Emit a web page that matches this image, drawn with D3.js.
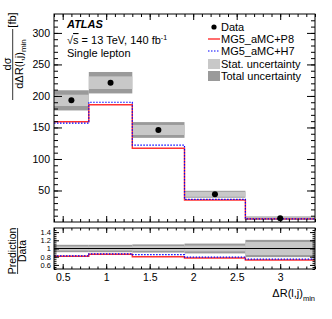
<!DOCTYPE html>
<html>
<head>
<meta charset="utf-8">
<script src="https://cdn.jsdelivr.net/npm/d3@7"></script>
<style>
  body { margin: 0; background: #fff; }
  svg { display: block; font-family: "Liberation Sans", Arial, sans-serif; }
</style>
</head>
<body>
<div id="chart"></div>
<script>
// bins in dR(l,j)_min
const binEdges = [0.4, 0.8, 1.3, 1.9, 2.6, 3.4];
const dataVals = [193, 221, 146, 44, 6];
const statErr = [9, 10, 8, 4, 1.5];
const totalErr = [16, 17, 12.5, 5.5, 2.8];
const predP8 = [159, 186, 117, 35, 5];
const predH7 = [157, 190, 122, 36, 5];

// ratio panel (prediction / data)
const ratioP8 = [0.81, 0.86, 0.80, 0.77, 0.72];
const ratioH7 = [0.82, 0.87, 0.85, 0.79, 0.74];
const ratioStat = [0.05, 0.05, 0.06, 0.07, 0.16];
const ratioTotal = [0.09, 0.09, 0.10, 0.12, 0.21];

const yTicks = [50, 100, 150, 200, 250, 300];
const ratioTicks = [0.6, 0.8, 1, 1.2, 1.4];
const xTicks = [0.5, 1, 1.5, 2, 2.5, 3];

const legendItems = ['Data', 'MG5_aMC+P8', 'MG5_aMC+H7', 'Stat. uncertainty', 'Total uncertainty'];

const W = 332, H = 319;
const left = 54, right = 315;
const mainTop = 14, mainBottom = 222;
const ratTop = 228, ratBottom = 269;

const cStat = '#c8c8c8', cTotal = '#9a9a9a';
const cRed = '#ff3030', cBlue = '#0000ff';

const svg = d3.select('#chart').append('svg')
  .attr('width', W).attr('height', H);

const x = d3.scaleLinear().domain([0.4, 3.4]).range([left, right]);
const y = d3.scaleLinear().domain([0, 330]).range([mainBottom, mainTop]);
const yr = d3.scaleLinear().domain([0.5, 1.5]).range([ratBottom, ratTop]);

const bins = dataVals.map((d, i) => ({ x0: binEdges[i], x1: binEdges[i + 1], i: i }));

//--------------------------------------------------------------
// Main panel
//--------------------------------------------------------------
const main = svg.append('g');

main.selectAll('.tot').data(bins).enter().append('rect')
  .attr('x', d => x(d.x0)).attr('width', d => x(d.x1) - x(d.x0))
  .attr('y', d => y(dataVals[d.i] + totalErr[d.i]))
  .attr('height', d => y(dataVals[d.i] - totalErr[d.i]) - y(dataVals[d.i] + totalErr[d.i]))
  .attr('fill', cTotal);

main.selectAll('.stat').data(bins).enter().append('rect')
  .attr('x', d => x(d.x0)).attr('width', d => x(d.x1) - x(d.x0))
  .attr('y', d => y(dataVals[d.i] + statErr[d.i]))
  .attr('height', d => y(dataVals[d.i] - statErr[d.i]) - y(dataVals[d.i] + statErr[d.i]))
  .attr('fill', cStat);

function stepLine(vals, sx, sy) {
  let pts = [];
  vals.forEach((v, i) => {
    pts.push([sx(binEdges[i]), sy(v)]);
    pts.push([sx(binEdges[i + 1]), sy(v)]);
  });
  return d3.line()(pts);
}

main.append('path').attr('d', stepLine(predP8, x, y))
  .attr('fill', 'none').attr('stroke', cRed).attr('stroke-width', 1.4);
main.append('path').attr('d', stepLine(predH7, x, y))
  .attr('fill', 'none').attr('stroke', cBlue).attr('stroke-width', 1.2)
  .attr('stroke-dasharray', '1.5,1.5');

main.selectAll('.dot').data(bins).enter().append('circle')
  .attr('cx', d => x((d.x0 + d.x1) / 2)).attr('cy', d => y(dataVals[d.i]))
  .attr('r', 3).attr('fill', '#000');

//--------------------------------------------------------------
// Ratio panel
//--------------------------------------------------------------
const rat = svg.append('g');

rat.selectAll('.tot').data(bins).enter().append('rect')
  .attr('x', d => x(d.x0)).attr('width', d => x(d.x1) - x(d.x0))
  .attr('y', d => yr(1 + ratioTotal[d.i]))
  .attr('height', d => yr(1 - ratioTotal[d.i]) - yr(1 + ratioTotal[d.i]))
  .attr('fill', cTotal);

rat.selectAll('.stat').data(bins).enter().append('rect')
  .attr('x', d => x(d.x0)).attr('width', d => x(d.x1) - x(d.x0))
  .attr('y', d => yr(1 + ratioStat[d.i]))
  .attr('height', d => yr(1 - ratioStat[d.i]) - yr(1 + ratioStat[d.i]))
  .attr('fill', cStat);

rat.append('line')
  .attr('x1', left).attr('x2', right).attr('y1', yr(1)).attr('y2', yr(1))
  .attr('stroke', '#000').attr('stroke-width', 1);

rat.append('path').attr('d', stepLine(ratioP8, x, yr))
  .attr('fill', 'none').attr('stroke', cRed).attr('stroke-width', 1.4);
rat.append('path').attr('d', stepLine(ratioH7, x, yr))
  .attr('fill', 'none').attr('stroke', cBlue).attr('stroke-width', 1.2)
  .attr('stroke-dasharray', '1.5,1.5');

//--------------------------------------------------------------
// Axes (ticks inside, on all sides)
//--------------------------------------------------------------
function addAxis(axis, tx, ty, fontSize) {
  let g = svg.append('g').attr('transform', `translate(${tx},${ty})`).call(axis);
  g.select('.domain').remove();
  g.selectAll('line').attr('stroke', '#000');
  g.selectAll('text').attr('fill', '#000').style('font-size', fontSize + 'px')
    .style('font-family', '"Liberation Sans", Arial, sans-serif');
  return g;
}

const minorX = d3.range(0.4, 3.41, 0.1).map(v => Math.round(v * 10) / 10);
const minorY = d3.range(10, 330, 10);
const minorR = d3.range(0.5, 1.5, 0.05).map(v => Math.round(v * 100) / 100);

// main y
addAxis(d3.axisLeft(y).tickValues(yTicks).tickSizeInner(-8).tickSizeOuter(0).tickPadding(4), left, 0, 10.5);
addAxis(d3.axisLeft(y).tickValues(minorY).tickSizeInner(-4).tickSizeOuter(0).tickFormat(''), left, 0, 10);
addAxis(d3.axisRight(y).tickValues(yTicks).tickSizeInner(-8).tickSizeOuter(0).tickFormat(''), right, 0, 10);
addAxis(d3.axisRight(y).tickValues(minorY).tickSizeInner(-4).tickSizeOuter(0).tickFormat(''), right, 0, 10);
// main x
addAxis(d3.axisBottom(x).tickValues(xTicks).tickSizeInner(-6).tickSizeOuter(0).tickFormat(''), 0, mainBottom, 10);
addAxis(d3.axisBottom(x).tickValues(minorX).tickSizeInner(-3).tickSizeOuter(0).tickFormat(''), 0, mainBottom, 10);
addAxis(d3.axisTop(x).tickValues(xTicks).tickSizeInner(-6).tickSizeOuter(0).tickFormat(''), 0, mainTop, 10);
addAxis(d3.axisTop(x).tickValues(minorX).tickSizeInner(-3).tickSizeOuter(0).tickFormat(''), 0, mainTop, 10);

// ratio y
addAxis(d3.axisLeft(yr).tickValues(ratioTicks).tickSizeInner(-5).tickSizeOuter(0).tickPadding(3)
  .tickFormat(d3.format('')), left, 0, 7.5);
addAxis(d3.axisLeft(yr).tickValues(minorR).tickSizeInner(-2.5).tickSizeOuter(0).tickFormat(''), left, 0, 7);
addAxis(d3.axisRight(yr).tickValues(ratioTicks).tickSizeInner(-5).tickSizeOuter(0).tickFormat(''), right, 0, 7);
addAxis(d3.axisRight(yr).tickValues(minorR).tickSizeInner(-2.5).tickSizeOuter(0).tickFormat(''), right, 0, 7);
// ratio x
addAxis(d3.axisBottom(x).tickValues(xTicks).tickSizeInner(-5).tickSizeOuter(0).tickPadding(5)
  .tickFormat(d3.format('')), 0, ratBottom, 10.5);
addAxis(d3.axisBottom(x).tickValues(minorX).tickSizeInner(-2.5).tickSizeOuter(0).tickFormat(''), 0, ratBottom, 10);
addAxis(d3.axisTop(x).tickValues(xTicks).tickSizeInner(-5).tickSizeOuter(0).tickFormat(''), 0, ratTop, 10);
addAxis(d3.axisTop(x).tickValues(minorX).tickSizeInner(-2.5).tickSizeOuter(0).tickFormat(''), 0, ratTop, 10);

// frames
svg.append('rect').attr('x', left).attr('y', mainTop)
  .attr('width', right - left).attr('height', mainBottom - mainTop)
  .attr('fill', 'none').attr('stroke', '#000').attr('stroke-width', 1);
svg.append('rect').attr('x', left).attr('y', ratTop)
  .attr('width', right - left).attr('height', ratBottom - ratTop)
  .attr('fill', 'none').attr('stroke', '#000').attr('stroke-width', 1);

//--------------------------------------------------------------
// Labels
//--------------------------------------------------------------
const fs = 11;

// y label, main: dσ / dΔR(l,j)_min [fb]
let yl = svg.append('g').style('font-size', fs + 'px');
yl.append('text').attr('transform', 'translate(10.5,64) rotate(-90)')
  .attr('text-anchor', 'middle').text('dσ');
let den = yl.append('text').attr('transform', 'translate(22.5,64) rotate(-90)')
  .attr('text-anchor', 'middle');
den.append('tspan').text('dΔR(l,j)');
den.append('tspan').attr('dy', 3).style('font-size', '8px').text('min');
yl.append('line').attr('x1', 12.7).attr('x2', 12.7).attr('y1', 29).attr('y2', 100)
  .attr('stroke', '#000').attr('stroke-width', 0.8);
yl.append('text').attr('transform', 'translate(15.5,20) rotate(-90)')
  .attr('text-anchor', 'middle').text('[fb]');

// y label, ratio: Prediction / Data
let rl = svg.append('g').style('font-size', '10.5px');
rl.append('text').attr('transform', 'translate(16.3,251) rotate(-90)')
  .attr('text-anchor', 'middle').text('Prediction');
rl.append('line').attr('x1', 17.6).attr('x2', 17.6).attr('y1', 228).attr('y2', 274)
  .attr('stroke', '#000').attr('stroke-width', 0.8);
rl.append('text').attr('transform', 'translate(26,251) rotate(-90)')
  .attr('text-anchor', 'middle').text('Data');

// x label
let xl = svg.append('text').attr('x', right).attr('y', 297)
  .attr('text-anchor', 'end').style('font-size', fs + 'px');
xl.append('tspan').text('ΔR(l,j)');
xl.append('tspan').attr('dy', 4).style('font-size', '7.5px').text('min');

// ATLAS and info
svg.append('text').attr('x', 67).attr('y', 28)
  .style('font-size', '11px').style('font-weight', 'bold').style('font-style', 'italic')
  .text('ATLAS');
let en = svg.append('text').attr('x', 67).attr('y', 44).style('font-size', fs + 'px');
en.append('tspan').text('√');
en.append('tspan').style('text-decoration', 'overline').text('s');
en.append('tspan').text(' = 13 TeV, 140 fb');
en.append('tspan').attr('dy', -4).style('font-size', '7px').text('-1');
svg.append('text').attr('x', 67).attr('y', 57).style('font-size', fs + 'px')
  .text('Single lepton');

// legend
const legY = [27, 39, 51, 64, 76];
const leg = svg.append('g').style('font-size', fs + 'px');
legendItems.forEach((name, i) => {
  let cy = legY[i];
  if (i == 0) {
    leg.append('circle').attr('cx', 214).attr('cy', cy).attr('r', 2.6).attr('fill', '#000');
  } else if (i == 1) {
    leg.append('line').attr('x1', 208).attr('x2', 220).attr('y1', cy).attr('y2', cy)
      .attr('stroke', cRed).attr('stroke-width', 1.4);
  } else if (i == 2) {
    leg.append('line').attr('x1', 208).attr('x2', 220).attr('y1', cy).attr('y2', cy)
      .attr('stroke', cBlue).attr('stroke-width', 1.2).attr('stroke-dasharray', '1.5,1.5');
  } else {
    leg.append('rect').attr('x', 208).attr('y', cy - 5).attr('width', 12).attr('height', 10)
      .attr('fill', i == 3 ? cStat : cTotal);
  }
  leg.append('text').attr('x', 221).attr('y', cy + 4).text(name);
});
</script>
</body>
</html>
